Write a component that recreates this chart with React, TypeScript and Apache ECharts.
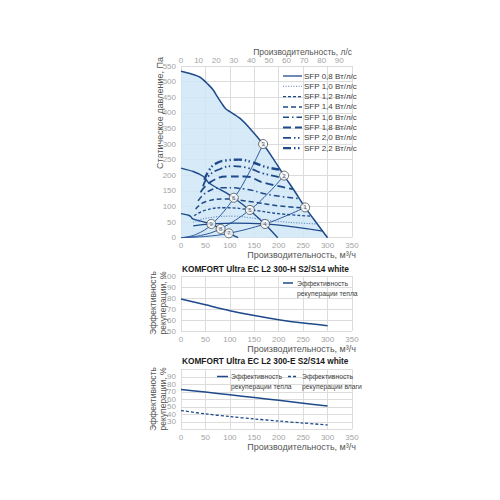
import React, { useEffect, useRef } from "react";
import * as echarts from "echarts";

// ---------- data ----------
const maxCurve = [[0,533],[20,525],[39,514],[55,492],[66,473],[75,450],[83,431],[92,412],[100,404],[121,382],[141,350],[168,300],[190,250],[211,199],[233,148],[254,97],[277,48],[300,0]];
const midCurve = [[0,223],[25,212],[46,196],[56,177],[73,160],[90,146],[108,128],[140,89],[170,46],[198,0]];
const lowCurve = [[0,77],[15,72],[20,68],[24,60],[40,53],[62,44],[81,28],[98,14],[117,0]];

const sysA = [[0,0],[30,10],[63,43],[109,128],[140,210],[168,300]];
const sysB = [[0,0],[40,7],[80,28],[141,89],[180,145],[211,199]];
const sysC = [[0,0],[50,4],[98,14],[172,44],[215,70],[254,97]];

const sfp08 = [[25,38],[63,44],[110,47],[172,44],[230,35],[290,21]];
const sfp10 = [[25,50],[50,62],[107,69],[141,64],[200,52],[279,44]];
const sfp12 = [[27,70],[50,88],[90,96],[140,90],[200,77],[267,69]];
const sfp14 = [[30,92],[50,115],[90,124],[140,116],[200,102],[255,95]];
const sfp16 = [[35,118],[55,148],[90,160],[130,156],[180,138],[242,125]];
const sfp18 = [[40,145],[60,178],[96,196],[130,196],[170,176],[229,156]];
const sfp20 = [[45,165],[58,200],[80,220],[105,229],[135,224],[170,205],[215,190]];
const sfp22 = [[48,185],[57,215],[72,238],[95,248],[118,250],[145,242],[175,226],[204,218]];

const workPoints = [[254,97,"1"],[211,199,"2"],[168,300,"3"],[172,44,"4"],[141,89,"5"],[108,128,"6"],[98,14,"7"],[81,28,"8"],[62,44,"9"]];

const sfpLabels = ["SFP 0,8 Вт/л/с","SFP 1,0 Вт/л/с","SFP 1,2 Вт/л/с","SFP 1,4 Вт/л/с","SFP 1,6 Вт/л/с","SFP 1,8 Вт/л/с","SFP 2,0 Вт/л/с","SFP 2,2 Вт/л/с"];

const effH = [[0,79],[50,73.8],[100,68.5],[150,64],[200,60.2],[250,57.2],[300,54.8]];
const effEHeat = [[0,73.2],[50,69.6],[100,66],[150,62.3],[200,58.6],[250,54.8],[300,51]];
const effEHum = [[0,45],[50,40.6],[100,37],[150,33.8],[200,31],[250,28.3],[300,25.8]];

const title2 = "KOMFORT Ultra EC L2 300-H S2/S14 white";
const title3 = "KOMFORT Ultra EC L2 300-E S2/S14 white";

// ---------- styles ----------
const BLUE = "#1f4a8a";
const FONT = '"Liberation Sans Narrow", "Liberation Sans", Arial, sans-serif';
const GRID_C = "#dcdcdc";
const LABEL_C = "#a3a3a3";
const NAME_C = "#555555";

const sfpStyles = [
  { type: "solid", width: 1.3, color: BLUE },
  { type: [1, 1.6], width: 1, color: "#4f7cbc" },
  { type: [3, 2], width: 1.3, color: BLUE },
  { type: [5, 3], width: 1.5, color: BLUE },
  { type: [6, 3, 1.5, 3], width: 1.5, color: BLUE },
  { type: [8, 4], width: 1.8, color: BLUE },
  { type: [8, 3, 1.5, 2.5, 1.5, 3], width: 1.8, color: BLUE },
  { type: [8, 3, 1.5, 2.5, 1.5, 3], width: 2.4, color: BLUE },
];
const sfpData = [sfp08, sfp10, sfp12, sfp14, sfp16, sfp18, sfp20, sfp22];

function xAxisFor(gridIndex: number) {
  return {
    type: "value", gridIndex, min: 0, max: 350, interval: 50,
    axisLine: { show: false }, axisTick: { show: false },
    splitLine: { show: true, lineStyle: { color: GRID_C, width: 1 } },
    axisLabel: { fontSize: 8, color: LABEL_C, margin: 4, fontFamily: FONT },
  };
}
function yAxisFor(gridIndex: number, min: number, max: number, interval: number) {
  return {
    type: "value", gridIndex, min, max, interval,
    axisLine: { show: false }, axisTick: { show: false },
    splitLine: { show: true, lineStyle: { color: GRID_C, width: 1 } },
    axisLabel: { fontSize: 8, color: LABEL_C, margin: 5, fontFamily: FONT },
  };
}
function txt(x: number, y: number, text: string, opts: any = {}) {
  const align = opts.align || "left";
  const va = opts.va || "middle";
  return {
    type: "text", x, y, rotation: opts.rotation || 0, z: 100,
    style: {
      text, fontSize: opts.size || 8, fontFamily: FONT, fontWeight: opts.weight || "normal",
      fill: opts.color || NAME_C, align, textAlign: align, verticalAlign: va, textVerticalAlign: va,
      lineHeight: opts.lineHeight || undefined,
    },
  };
}
function lineEl(x1: number, y1: number, x2: number, y2: number, st: any) {
  return {
    type: "line", z: 100,
    shape: { x1, y1, x2, y2 },
    style: { stroke: st.color || BLUE, lineWidth: st.width || 1.5, lineDash: Array.isArray(st.type) ? st.type : null },
  };
}

export default function App() {
  const ref = useRef<HTMLDivElement>(null);
  useEffect(() => {
    if (!ref.current) return;
    const chart = echarts.init(ref.current, null, { renderer: "svg" });

    const graphic: any[] = [];
    // top chart legend
    sfpLabels.forEach((lab, i) => {
      const y = 76 + i * 10.3;
      graphic.push(lineEl(283, y, 302, y, sfpStyles[i]));
      graphic.push(txt(304, y, lab, { size: 8, color: "#404040" }));
    });
    // axis names
    graphic.push(txt(352, 52, "Производительность, л/с", { align: "right", size: 8.5 }));
    graphic.push(txt(160, 113, "Статическое давление, Па", { align: "center", size: 9, rotation: Math.PI / 2 }));
    graphic.push(txt(356, 255, "Производительность, м³/ч", { align: "right", size: 9 }));
    // chart 2
    graphic.push(txt(182, 269, title2, { size: 8.3, weight: "bold", color: "#1a1a1a" }));
    graphic.push(txt(158, 303, "Эффективность\nрекуперации, %", { align: "center", size: 8.5, rotation: Math.PI / 2, lineHeight: 10 }));
    graphic.push(lineEl(283, 283, 293, 283, { width: 1.5 }));
    graphic.push(txt(297, 283, "Эффективность", { size: 6.8, color: "#404040" }));
    graphic.push(txt(297, 293, "рекуперации тепла", { size: 6.8, color: "#404040" }));
    graphic.push(txt(356, 349, "Производительность, м³/ч", { align: "right", size: 9 }));
    // chart 3
    graphic.push(txt(182, 361, title3, { size: 8.3, weight: "bold", color: "#1a1a1a" }));
    graphic.push(txt(158, 399, "Эффективность\nрекуперации, %", { align: "center", size: 8.5, rotation: Math.PI / 2, lineHeight: 10 }));
    graphic.push(lineEl(217, 376.5, 228, 376.5, { width: 1.5 }));
    graphic.push(txt(231, 376.5, "Эффективность", { size: 6.8, color: "#404040" }));
    graphic.push(txt(231, 386, "рекуперации тепла", { size: 6.8, color: "#404040" }));
    graphic.push(lineEl(288, 376.5, 298, 376.5, { width: 1.3, type: [3, 2] }));
    graphic.push(txt(302, 376.5, "Эффективность", { size: 6.8, color: "#404040" }));
    graphic.push(txt(302, 386, "рекуперации влаги", { size: 6.8, color: "#404040" }));
    graphic.push(txt(356, 447, "Производительность, м³/ч", { align: "right", size: 9 }));

    const series: any[] = [];
    series.push({
      type: "line", xAxisIndex: 0, yAxisIndex: 0, data: maxCurve, smooth: 0.3, symbol: "none",
      lineStyle: { color: BLUE, width: 1.5 }, areaStyle: { color: "#cfe6f7", opacity: 0.85 }, z: 2,
    });
    [midCurve, lowCurve].forEach((d) => series.push({
      type: "line", xAxisIndex: 0, yAxisIndex: 0, data: d, smooth: 0.2, symbol: "none",
      lineStyle: { color: BLUE, width: 1.4 }, z: 3,
    }));
    [sysA, sysB, sysC].forEach((d) => series.push({
      type: "line", xAxisIndex: 0, yAxisIndex: 0, data: d, smooth: 0.4, symbol: "none",
      lineStyle: { color: "#2d5a9c", width: 1 }, z: 3,
    }));
    sfpData.forEach((d, i) => series.push({
      type: "line", xAxisIndex: 0, yAxisIndex: 0, data: d, smooth: 0.5, symbol: "none",
      lineStyle: { color: sfpStyles[i].color, width: sfpStyles[i].width, type: sfpStyles[i].type }, z: 4,
    }));
    series.push({
      type: "scatter", xAxisIndex: 0, yAxisIndex: 0, data: workPoints, symbol: "circle", symbolSize: 9,
      itemStyle: { color: "#ffffff", borderColor: "#3a3a3a", borderWidth: 0.9 }, z: 10,
      label: { show: true, position: "inside", formatter: (p: any) => p.data[2], fontSize: 6, color: "#333", fontFamily: FONT },
    });
    series.push({
      type: "line", xAxisIndex: 2, yAxisIndex: 1, data: effH, smooth: 0.3, symbol: "none",
      lineStyle: { color: BLUE, width: 1.5 },
    });
    series.push({
      type: "line", xAxisIndex: 3, yAxisIndex: 2, data: effEHeat, smooth: 0.3, symbol: "none",
      lineStyle: { color: BLUE, width: 1.5 },
    });
    series.push({
      type: "line", xAxisIndex: 3, yAxisIndex: 2, data: effEHum, smooth: 0.3, symbol: "none",
      lineStyle: { color: BLUE, width: 1.3, type: [3, 2] },
    });

    chart.setOption({
      animation: false,
      backgroundColor: "#ffffff",
      grid: [
        { left: 181, top: 66, width: 171, height: 171.7 },
        { left: 181, top: 276, width: 171, height: 55 },
        { left: 181, top: 369.3, width: 171, height: 60 },
      ],
      xAxis: [
        xAxisFor(0),
        {
          type: "value", gridIndex: 0, position: "top", min: 0, max: 350 / 3.6, interval: 10,
          axisLine: { show: false }, axisTick: { show: false }, splitLine: { show: false },
          axisLabel: { fontSize: 8, color: LABEL_C, margin: 2, fontFamily: FONT, showMaxLabel: false,
            formatter: (v: number) => (Math.abs(v - Math.round(v)) < 1e-6 ? String(Math.round(v)) : "") },
        },
        xAxisFor(1),
        xAxisFor(2),
      ],
      yAxis: [
        yAxisFor(0, 0, 550, 50),
        yAxisFor(1, 50, 100, 10),
        yAxisFor(2, 20, 100, 10),
      ],
      series,
      graphic,
    });
    return () => chart.dispose();
  }, []);
  return <div ref={ref} style={{ position: "fixed", left: 0, top: 0, width: 500, height: 500 }} />;
}
